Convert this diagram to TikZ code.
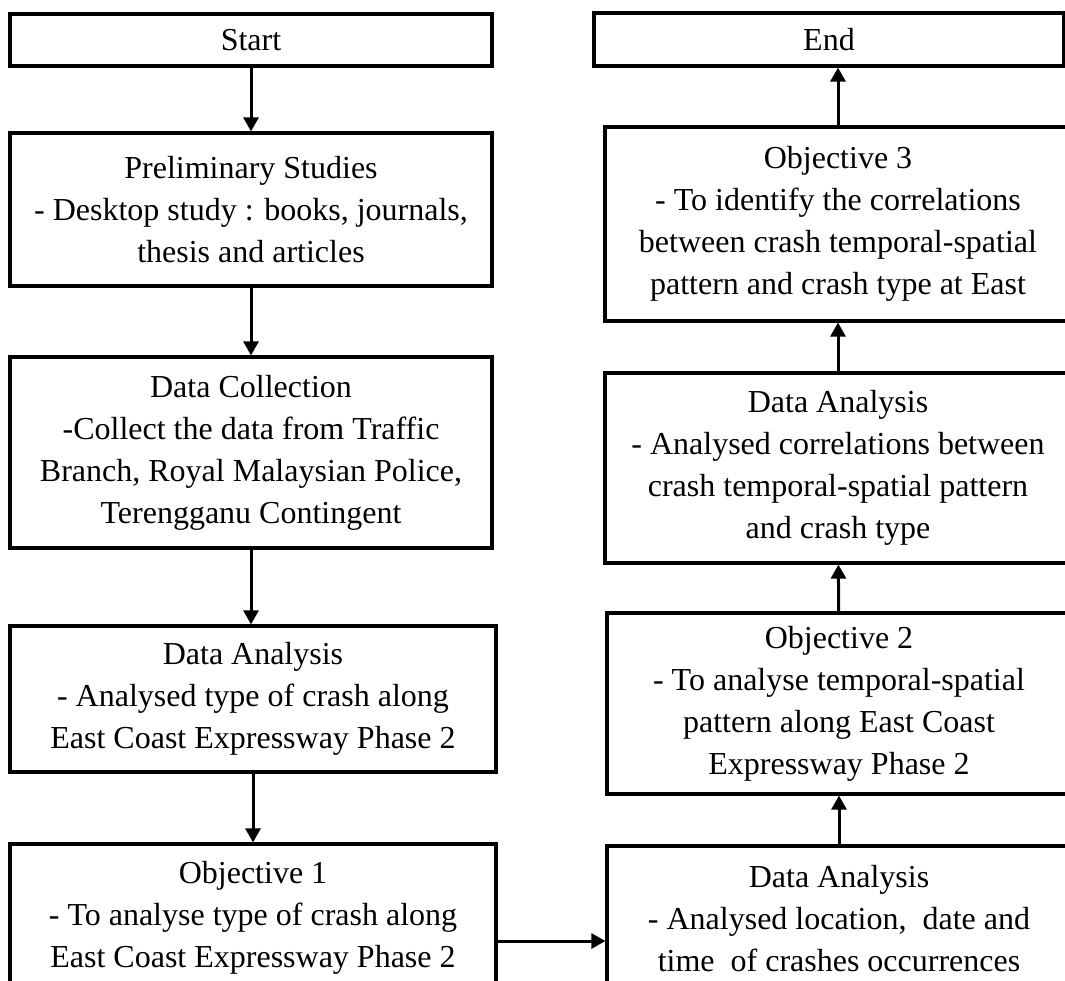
\documentclass[tikz,border=0pt]{standalone}
\usepackage{fontspec}
\setmainfont{Liberation Serif}
\usetikzlibrary{arrows.meta}
\tikzset{
  flowbox/.style={draw, line width=3.2pt, inner sep=0pt, align=center, font=\fontsize{32pt}{42pt}\selectfont},
  flowarrow/.style={line width=3pt, -{Triangle[length=14pt,width=15pt]}}
}
\begin{document}
\begin{tikzpicture}[x=1pt,y=1pt,yscale=-1,xscale=1]
        \useasboundingbox (0,0) rectangle (1065,980);
        \clip (0,0) rectangle (1065,980);

        \node [flowbox, minimum width=482pt, minimum height=52pt]  (start)   at (251,40)    {Start};
        \node [flowbox, minimum width=482pt, minimum height=153pt] (prelim)  at (251,209.5) {Preliminary Studies\\- Desktop study : books, journals,\\thesis and articles};
        \node [flowbox, minimum width=482pt, minimum height=191pt] (collect) at (251,452.5) {Data Collection\\-Collect the data from Traffic\\Branch, Royal Malaysian Police,\\Terengganu Contingent};
        \node [flowbox, minimum width=486pt, minimum height=146pt] (anal1)   at (253,699)   {Data Analysis\\- Analysed type of crash along\\East Coast Expressway Phase 2};
        \node [flowbox, minimum width=486pt, minimum height=147pt] (obj1)    at (253,917.5) {Objective 1\\- To analyse type of crash along\\East Coast Expressway Phase 2};

        \node [flowbox, minimum width=464pt, minimum height=145pt] (anal2)   at (839,918.5) {Data Analysis\\- Analysed location,\ \ date and\\time\ \ of crashes occurrences};
        \node [flowbox, minimum width=464pt, minimum height=181pt] (obj2)    at (839,703.5) {Objective 2\\- To analyse temporal-spatial\\pattern along East Coast\\Expressway Phase 2};
        \node [flowbox, minimum width=466pt, minimum height=190pt] (anal3)   at (838,468)   {Data Analysis\\- Analysed correlations between\\crash temporal-spatial pattern\\and crash type};
        \node [flowbox, minimum width=466pt, minimum height=194pt] (obj3)    at (838,224)   {Objective 3\\- To identify the correlations\\between crash temporal-spatial\\pattern and crash type at East};
        \node [flowbox, minimum width=470pt, minimum height=53pt]  (end)     at (829,39.5)  {End};

        \coordinate (link) at (0,941);

        \draw [flowarrow] (start) -- (prelim);
        \draw [flowarrow] (prelim) -- (collect);
        \draw [flowarrow] (collect) -- (collect.south |- anal1.north);
        \draw [flowarrow] (anal1) -- (anal1.south |- obj1.north);
        \draw [flowarrow] (obj1.east |- link) -- (anal2.west |- link);
        \draw [flowarrow] (anal2) -- (obj2);
        \draw [flowarrow] (obj2) -- (anal3);
        \draw [flowarrow] (anal3) -- (obj3);
        \draw [flowarrow] (obj3.north) -- (obj3.north |- end.south);
    \end{tikzpicture}
\end{document}
